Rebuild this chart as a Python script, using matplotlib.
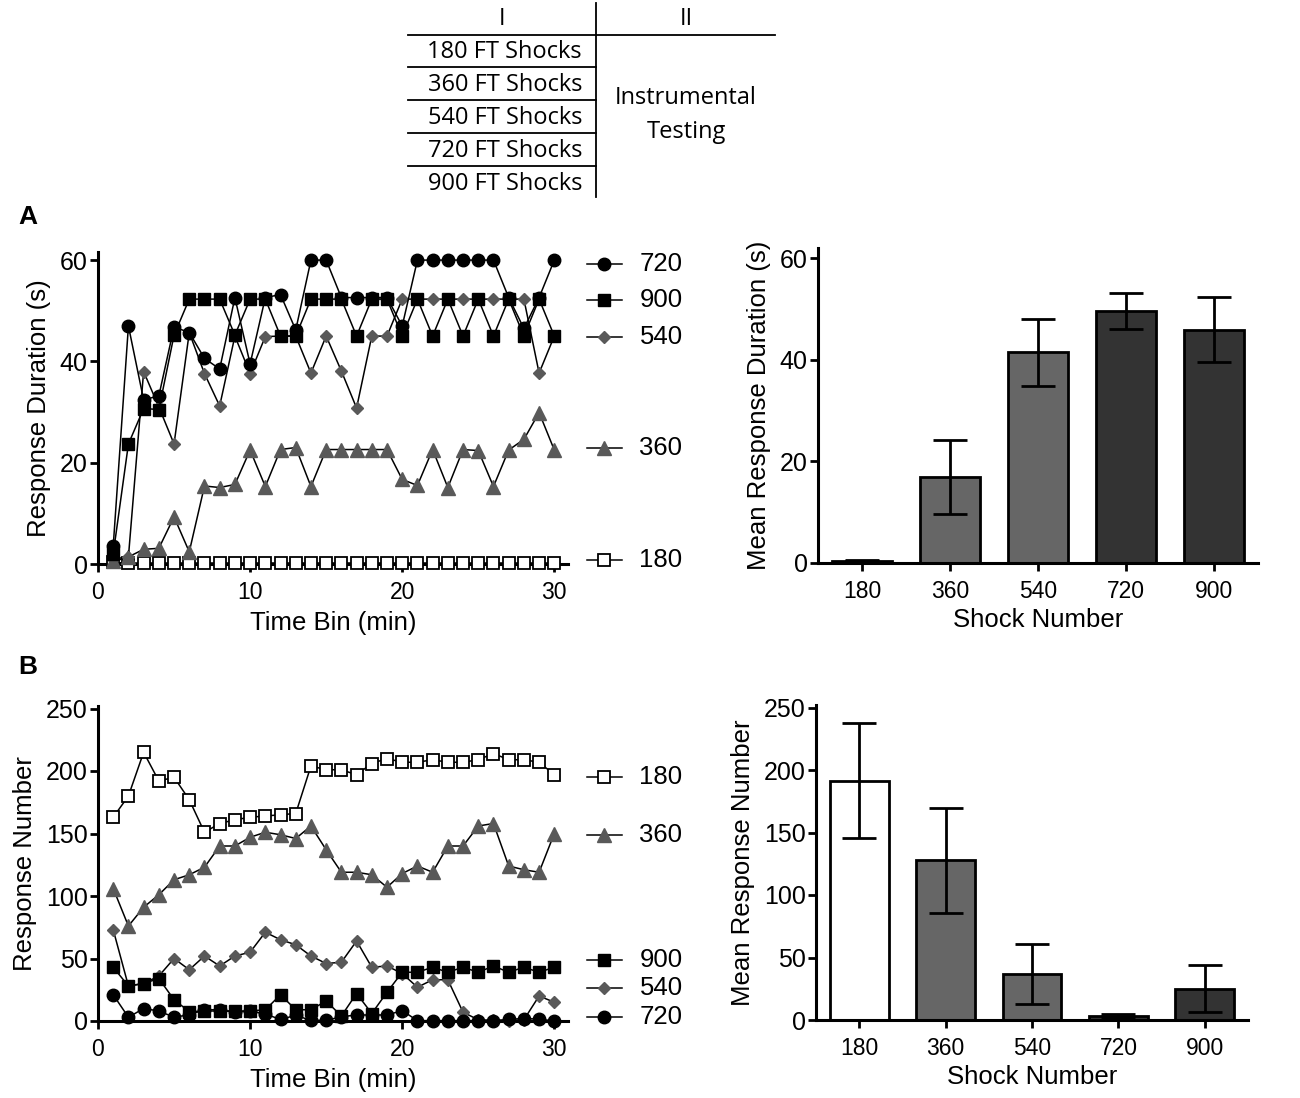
import matplotlib
matplotlib.use("Agg")
import matplotlib.pyplot as plt
from matplotlib.lines import Line2D

plt.rcParams['font.family'] = ['Liberation Sans', 'DejaVu Sans']

# ---------------- data ----------------
time_bins = list(range(1, 31))

A_720 = [3.5, 47, 32.4, 33.2, 46.8, 45.7, 40.6, 38.5, 52.6, 39.5, 52.6, 53.2, 46.2, 60, 60,
         52.6, 52.6, 52.6, 52.6, 47, 60, 60, 60, 60, 60, 60, 52.6, 46.5, 52.6, 60]
A_900 = [2, 23.7, 30.7, 30.5, 45.2, 52.3, 52.3, 52.3, 45.2, 52.3, 52.3, 45, 45, 52.3, 52.3,
         52.3, 45, 52.3, 52.3, 45, 52.3, 45, 52.3, 45, 52.3, 45, 52.3, 45, 52.3, 45]
A_540 = [1, 1.4, 38, 31, 23.7, 45.7, 37.6, 31.2, 45, 37.6, 44.9, 45, 45, 37.7, 45,
         38.1, 30.8, 45, 45, 52.3, 52.3, 52.3, 52.3, 52.3, 52.3, 52.3, 52.3, 52.3, 37.7, 45]
A_360 = [0.5, 1.4, 2.9, 3.1, 9.3, 2.4, 15.4, 15.1, 15.7, 22.5, 15.3, 22.6, 23, 15.3, 22.6,
         22.6, 22.6, 22.6, 22.6, 16.7, 15.5, 22.6, 15.1, 22.6, 22.4, 15.3, 22.5, 24.6, 29.9, 22.5]
A_180 = [0.3, 0.2, 0.2, 0.2, 0.2, 0.2, 0.2, 0.2, 0.2, 0.2, 0.2, 0.2, 0.2, 0.2, 0.2,
         0.2, 0.2, 0.2, 0.2, 0.2, 0.2, 0.2, 0.2, 0.2, 0.2, 0.2, 0.2, 0.2, 0.2, 0.2]

B_180 = [163, 180, 215, 192, 195, 177, 151, 158, 161, 163, 164, 165, 166, 204, 201,
         201, 197, 206, 210, 207, 207, 209, 207, 207, 209, 214, 209, 209, 207, 197]
B_360 = [106, 76, 91, 101, 113, 117, 123, 140, 140, 147, 151, 149, 146, 156, 137,
         119, 119, 117, 107, 118, 124, 119, 140, 140, 156, 158, 124, 121, 119, 150]
B_540 = [73, 28, 30, 36, 50, 41, 52, 44, 52, 55, 71, 65, 61, 52, 46,
         47, 64, 43, 44, 38, 27, 33, 33, 7, 1, 0.5, 0, 1, 20, 15]
B_900 = [43, 28, 30, 34, 17, 7.5, 8, 8, 8, 8, 9, 21, 9, 9, 16,
         4, 22, 6, 23, 39, 39, 43, 39, 43, 39, 44, 39, 43, 39, 43]
B_720 = [21, 3, 10, 8, 3, 5, 9, 9, 7, 8, 5.5, 1.3, 4.5, 0.5, 0.5,
         3.4, 4.8, 4.8, 4.8, 8.3, 0.3, 0.3, 0.3, 0.3, 0.3, 0.3, 1.3, 2, 1.5, 0]

shock_groups = ['180', '360', '540', '720', '900']
A_bar_mean = [0.4, 17.0, 41.5, 49.6, 45.9]
A_bar_sem = [0.1, 7.3, 6.6, 3.5, 6.4]
B_bar_mean = [191.6, 127.9, 37.2, 3.2, 25.2]
B_bar_sem = [45.7, 42.0, 24.0, 1.5, 18.5]

table_col_headers = ['I', 'II']
table_rows = ['180 FT Shocks', '360 FT Shocks', '540 FT Shocks', '720 FT Shocks', '900 FT Shocks']
table_phase2 = 'Instrumental\nTesting'

# ---------------- styles ----------------
GREY = '#595959'
styles = {
    '720': dict(marker='o', ms=9, mfc='black', mec='black'),
    '900': dict(marker='s', ms=8.5, mfc='black', mec='black'),
    '540': dict(marker='D', ms=6, mfc=GREY, mec=GREY),
    '360': dict(marker='^', ms=9.5, mfc=GREY, mec=GREY),
    '180': dict(marker='s', ms=8.5, mfc='white', mec='black', mew=1.3),
}
bar_colors = ['white', '#666666', '#666666', '#333333', '#333333']

W, H = 1300, 1098
fig = plt.figure(figsize=(W / 100, H / 100), dpi=100)


def fr(x0, y0, x1, y1):
    return [x0 / W, 1 - y1 / H, (x1 - x0) / W, (y1 - y0) / H]


def style_axes(ax):
    for s in ['top', 'right']:
        ax.spines[s].set_visible(False)
    for s in ['left', 'bottom']:
        ax.spines[s].set_linewidth(2.2)
    ax.tick_params(axis='both', direction='out', width=2, length=5.5, color='black')
    ax.tick_params(axis='y', labelsize=18, pad=2)
    ax.tick_params(axis='x', labelsize=16.5, pad=7)


def line_panel(ax, series, order, legend_y, ylim, yticks, ylabel):
    for key in order:
        st = dict(styles[key])
        ax.plot(time_bins, series[key], color='black', lw=1.1, clip_on=False, zorder=3, **st)
    ax.set_xlim(0, 30.9)
    ax.set_ylim(*ylim)
    ax.set_xticks([0, 10, 20, 30])
    ax.set_yticks(yticks)
    style_axes(ax)
    ax.set_xlabel('Time Bin (min)', fontsize=18.5, labelpad=5)
    ax.set_ylabel(ylabel, fontsize=18.5, labelpad=6)
    # manual legend at the right end of the lines
    trans = ax.get_yaxis_transform()
    for key, yv in legend_y.items():
        st = dict(styles[key])
        ax.add_line(Line2D([1.04, 1.115], [yv, yv], transform=trans, color='black', lw=1.1,
                           clip_on=False))
        ax.add_line(Line2D([1.0775], [yv], transform=trans, clip_on=False, linestyle='none', **st))
        ax.text(1.152, yv, key, transform=trans, fontsize=18.5, va='center', ha='left')


def bar_panel(ax, means, sems, ylim, yticks, ylabel):
    xs = list(range(len(shock_groups)))
    ax.bar(xs, means, width=0.68, color=bar_colors, edgecolor='black', linewidth=2, zorder=2)
    ax.errorbar(xs, means, yerr=sems, fmt='none', ecolor='black', elinewidth=2,
                capsize=12, capthick=2, zorder=3)
    ax.set_xlim(-0.5, 4.5)
    ax.set_ylim(*ylim)
    ax.set_xticks(xs)
    ax.set_xticklabels(shock_groups)
    ax.set_yticks(yticks)
    style_axes(ax)
    ax.set_xlabel('Shock Number', fontsize=18.5, labelpad=3)
    ax.set_ylabel(ylabel, fontsize=18.5, labelpad=6)


# Panel A
axA1 = fig.add_axes(fr(98, 252, 568, 564))
line_panel(axA1,
           {'720': A_720, '900': A_900, '540': A_540, '360': A_360, '180': A_180},
           ['180', '360', '540', '900', '720'],
           {'720': 59.2, '900': 52.1, '540': 44.8, '360': 22.9, '180': 0.8},
           (0, 61.6), [0, 20, 40, 60], 'Response Duration (s)')

axA2 = fig.add_axes(fr(818, 248, 1258, 563))
bar_panel(axA2, A_bar_mean, A_bar_sem, (0, 62), [0, 20, 40, 60], 'Mean Response Duration (s)')

# Panel B
axB1 = fig.add_axes(fr(98, 706, 568, 1021))
line_panel(axB1,
           {'720': B_720, '900': B_900, '540': B_540, '360': B_360, '180': B_180},
           ['180', '360', '540', '900', '720'],
           {'180': 194.9, '360': 148.6, '900': 48.7, '540': 26.4, '720': 3.2},
           (0, 252), [0, 50, 100, 150, 200, 250], 'Response Number')

axB2 = fig.add_axes(fr(816, 705, 1248, 1020))
bar_panel(axB2, B_bar_mean, B_bar_sem, (0, 252), [0, 50, 100, 150, 200, 250], 'Mean Response Number')

# Panel letters
fig.text(18 / W, 1 - 217 / H, 'A', fontsize=19, fontweight='bold', va='center', ha='left')
fig.text(18 / W, 1 - 667 / H, 'B', fontsize=19, fontweight='bold', va='center', ha='left')

# Schedule table at the top
tfont = ['Open Sans', 'DejaVu Sans']
lw_t = 1.3
fig.add_artist(Line2D([596 / W, 596 / W], [1 - 3 / H, 1 - 197 / H], color='black', lw=lw_t))
fig.add_artist(Line2D([408 / W, 775 / W], [1 - 35 / H, 1 - 35 / H], color='black', lw=lw_t))
for yy in [67, 100, 133, 166]:
    fig.add_artist(Line2D([408 / W, 596 / W], [1 - yy / H, 1 - yy / H], color='black', lw=lw_t))
fig.text(502 / W, 1 - 19 / H, table_col_headers[0], family=tfont, fontsize=17, ha='center', va='center')
fig.text(686 / W, 1 - 19 / H, table_col_headers[1], family=tfont, fontsize=17, ha='center', va='center')
for i, row in enumerate(table_rows):
    yc = 52 + i * 33
    fig.text(582 / W, 1 - yc / H, row, family=tfont, fontsize=17, ha='right', va='center')
fig.text(686 / W, 1 - 115 / H, table_phase2, family=tfont, fontsize=17, ha='center', va='center',
         linespacing=1.5)

fig.savefig('out.png', dpi=100)
